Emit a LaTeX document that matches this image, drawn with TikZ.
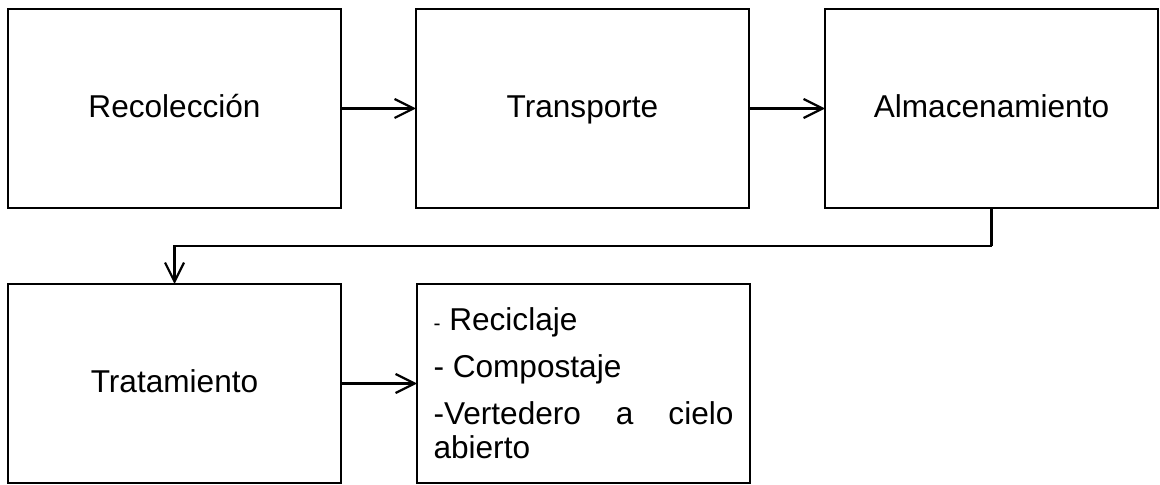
\documentclass[tikz,border=0pt]{standalone}
\usepackage{fontspec}
\setmainfont{Liberation Sans}
\usepackage{tikz}
\usetikzlibrary{arrows.meta,calc,positioning}

\begin{document}
\begin{tikzpicture}[auto,>={Straight Barb[length=9.5pt,width=9.5pt,line width=1.1pt]}]
	\tikzstyle{block} = [draw, rectangle, line width=1.1pt, outer sep=0pt, minimum height=99.5pt, minimum width=166.5pt, font=\fontsize{15.8}{17.3}\selectfont]
	\tikzstyle{oneline} = [block, text height=12.6pt, text depth=3.2pt]
	\useasboundingbox (0,0) rectangle (580pt,-242.5pt);
	
	\node [oneline, anchor=north west] at (4pt,-4.5pt) (recol) {Recolección};
	\node [oneline, right = 37.5pt of recol] (transp) {Transporte};
	\node [oneline, right = 38pt of transp] (almac) {Almacenamiento};
	\node [coordinate, below = 19pt of almac.south] (c1) {};
	
	\node [oneline, below = 38pt of recol] (trat) {Tratamiento};
	\node [block, right = 38pt of trat, text width=150pt, inner xsep=8pt, align=justify] (metodos)
		{{\fontsize{10.5}{10}\selectfont -} Reciclaje\\[6pt]
		 - Compostaje\\[6pt]
		 -Vertedero a cielo abierto};
	
	\draw [->, line width=1.1pt] (recol) -- (transp);
	\draw [->, line width=1.1pt] (transp) -- (almac);
	\draw [-, line width=1.1pt] (almac.south) -- (c1);
	\draw [->, line width=1.1pt] (c1) -| (trat.north);
	\draw [->, line width=1.1pt] (trat) -- (metodos);
	
\end{tikzpicture}
\end{document}
